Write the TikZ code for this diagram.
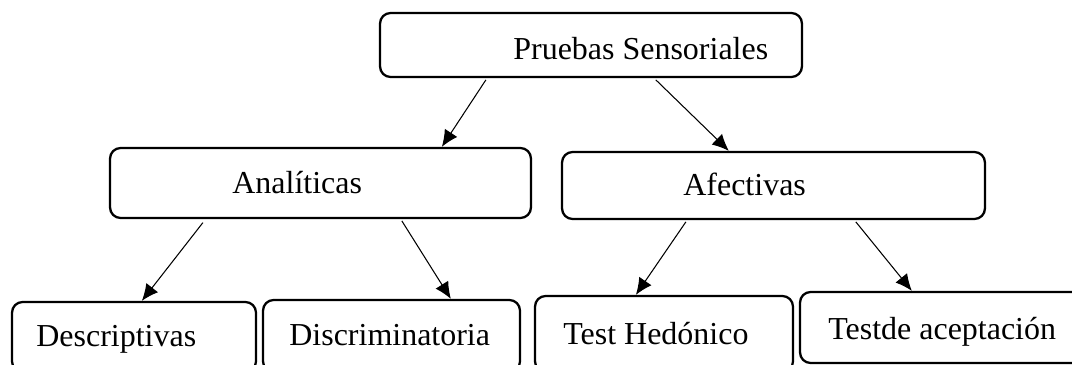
\documentclass[tikz,border=0pt]{standalone}
\usepackage{fontspec}
\setmainfont{Liberation Serif}
\usepackage{xcolor}
\usepackage{tikz}
\usetikzlibrary{arrows.meta,positioning}
\tikzset{
  caja/.style={draw=black, line width=1.3pt, rounded corners=6pt, inner sep=0pt, fill=white},
  rotulo/.style={anchor=base west, inner sep=0pt, font=\fontsize{18.2}{22}\selectfont},
  flecha/.style={-{Latex[length=9.5pt,width=8.5pt]}, line width=0.6pt, draw=black}
}
\begin{document}
\begin{tikzpicture}[x=0.02cm, y=-0.02cm]
  \useasboundingbox (0,0) rectangle (1072,365);

  % cajas
  \node[caja, minimum width=8.44cm, minimum height=1.28cm] (ps) at (591,45) {};
  \node[caja, minimum width=8.42cm, minimum height=1.40cm] (an) at (320.5,183) {};
  \node[caja, minimum width=8.46cm, minimum height=1.34cm] (af) at (773.5,185.5) {};
  \node[caja, minimum width=4.88cm, minimum height=1.40cm] (de) at (134,337) {};
  \node[caja, minimum width=5.14cm, minimum height=1.44cm] (di) at (391.5,336) {};
  \node[caja, minimum width=5.16cm, minimum height=1.52cm] (th) at (664,334) {};
  \node[caja, minimum width=6.20cm, minimum height=1.42cm] (ta) at (955,327.5) {};

  % textos
  \node[rotulo] (ps-t) at (513,59) {Pruebas Sensoriales};
  \node[rotulo] (an-t) at (232,193) {Analíticas};
  \node[rotulo] (af-t) at (683,195) {Afectivas};
  \node[rotulo] (de-t) at (36,346) {Descriptivas};
  \node[rotulo] (di-t) at (289,345) {Discriminatoria};
  \node[rotulo] (th-t) at (563,344) {Test Hedónico};
  \node[rotulo] (ta-t) at (828,339) {Testde aceptación};

  % flechas
  \draw[flecha] ([xshift=2.14cm, yshift=-1pt]ps.south west) -- ([xshift=6.66cm]an.north west);
  \draw[flecha] ([xshift=5.54cm, yshift=-1pt]ps.south west) -- ([xshift=3.36cm]af.north west);
  \draw[flecha] ([xshift=1.88cm, yshift=-2pt]an.south west) -- ([xshift=2.62cm]de.north west);
  \draw[flecha] ([xshift=5.86cm, yshift=-1pt]an.south west) -- ([xshift=3.78cm]di.north west);
  \draw[flecha] ([xshift=2.50cm, yshift=-1pt]af.south west) -- ([xshift=2.04cm]th.north west);
  \draw[flecha] ([xshift=5.90cm, yshift=-1pt]af.south west) -- ([xshift=2.26cm]ta.north west);
\end{tikzpicture}
\end{document}
